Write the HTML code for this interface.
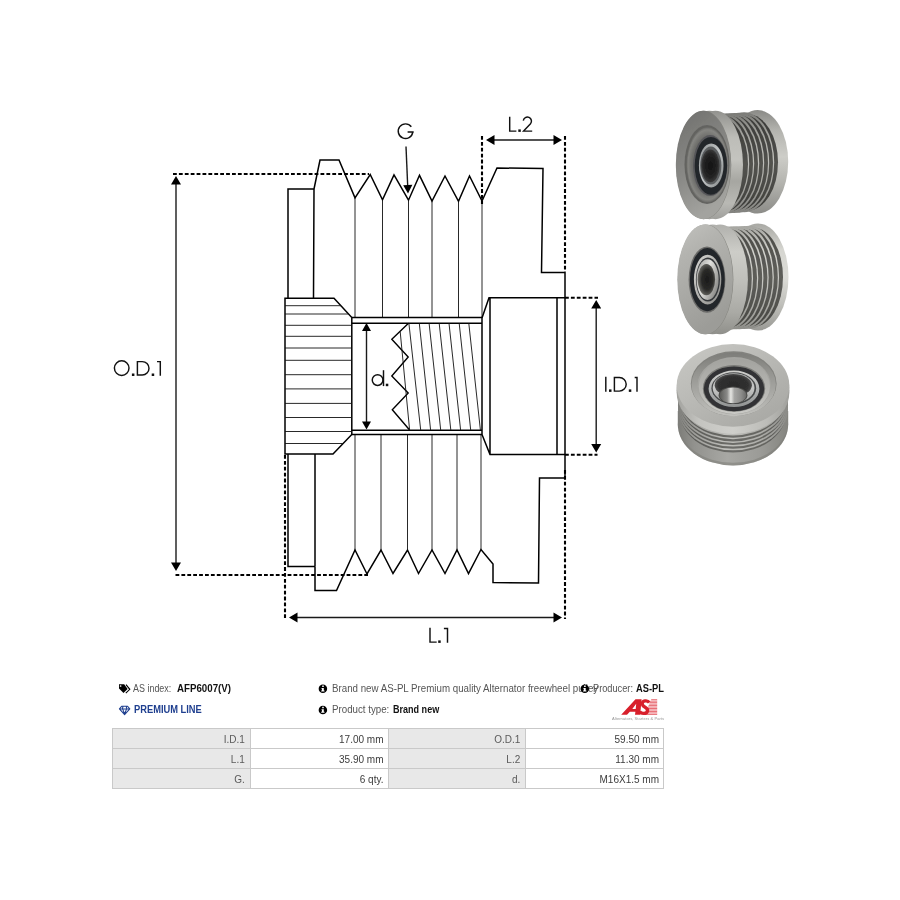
<!DOCTYPE html>
<html><head><meta charset="utf-8">
<style>
html,body{margin:0;padding:0;background:#fff;}
body{width:900px;height:900px;position:relative;overflow:hidden;font-family:"Liberation Sans",sans-serif;}
svg{position:absolute;left:0;top:0;}
.o{fill:none;stroke:#000;stroke-width:1.5;stroke-linejoin:miter;}
.t{fill:none;stroke:#111;stroke-width:0.9;}
.d{fill:none;stroke:#000;stroke-width:2.1;stroke-dasharray:3.8 2.1;}
.a{fill:none;stroke:#1a1a1a;stroke-width:1.4;}
.h{fill:#000;stroke:none;}
.lb{font-family:"Liberation Sans",sans-serif;font-size:19px;fill:#111;stroke:#fff;stroke-width:0.55px;paint-order:fill stroke;}
</style></head><body>
<svg id="draw" width="900" height="900" viewBox="0 0 900 900">
<!-- DRAWING -->
<g id="drawing">
<!-- left thin flange -->
<path class="o" d="M288,298 L288,189 L314,189 M313.5,298 L314,189"/>
<path class="o" d="M288,454 L288,566.5 L315,566.5 M315,454 L315,566.5"/>
<!-- top profile -->
<path class="o" d="M314,189 L320,160 L339,160 L355,197.8 L370.2,174.5 L382.5,199.8 L394,175 L408.5,200.2 L419.5,175.3 L432,201 L445,176 L458.5,201.3 L469.5,176 L482,201 L497,168 L543,168.5 L541.5,272.5 L565,272.5 L565,478 L539.5,478 L538.5,583 L493,582.5 L493,564 L481,549.5 L468.5,573.5 L457,550 L445,573.5 L432,550 L418.5,573.5 L407.5,550 L393,573.5 L381,550 L367,574 L355,550 L336.5,590.5 L315,590.5 L315,566.5"/>
<!-- groove verticals -->
<path class="t" d="M355,197.8 V318 M382.5,199.8 V318 M408.5,200.2 V318 M432,201 V318 M458.5,201.3 V318 M482,201 V318"/>
<path class="t" d="M355,550 V435 M381,550 V435 M407.5,550 V435 M432,550 V435 M457,550 V435 M481,550 V435"/>
<!-- spline hub -->
<path class="o" d="M285,298.3 L334,298.3 L351.8,317.5 L351.8,434.5 L333,454 L285,454 Z"/>
<path class="t" d="M285,305.7 H341 M285,314 H348.5 M285,325.3 H352 M285,336.3 H352 M285,348 H352 M285,360.3 H352 M285,374.7 H352 M285,388.9 H352 M285,403.4 H352 M285,417.5 H352 M285,431.5 H352 M285,443.5 H343"/>
<!-- bore -->
<path class="o" d="M352,317.5 H482 M352,323.3 H482 M352,430.3 H482 M352,434.6 H482"/>
<!-- right hub -->
<path class="o" d="M482,318 L489,297.8 L565,297.8 M482,434.5 L490,454.5 L565,454.5 M482,318 V434.5 M490,297.8 V454.5 M557,297.8 V454.5"/>
<!-- thread -->
<path class="o" d="M408.5,323.3 L391.8,339.3 L408.2,357 L391.8,376 L408.2,393 L392.3,409.7 L409.6,430" style="stroke-width:1.4"/>
<path class="t" d="M400.2,331.7 L409.6,430 M408.9,323.3 L420.7,430 M419.3,323.3 L430.6,430 M429.1,323.3 L440.7,430 M439.2,323.3 L450.8,430 M449,323.3 L460.6,430 M459.2,323.3 L470.7,430 M468.8,323.3 L480.4,430"/>
</g>
<!-- DIMENSIONS -->
<g id="dims">
<path class="d" d="M173,174 H369"/>
<path class="d" d="M175.5,575 H368"/>
<path class="a" d="M176,182 V568"/>
<path class="h" d="M176,176 l-5,8.5 h10 z M176,571 l-5,-8.5 h10 z"/>
<path class="d" d="M482,136 V204 M565,136 V272"/>
<path class="a" d="M492,140 H555"/>
<path class="h" d="M486,140 l8.5,-5 v10 z M562,140 l-8.5,-5 v10 z"/>
<path class="d" d="M565,297.8 H598 M565,454.8 H597.5"/>
<path class="a" d="M596.2,306 V446"/>
<path class="h" d="M596.2,300 l-5,8.5 h10 z M596.2,452.5 l-5,-8.5 h10 z"/>
<path class="d" d="M285,455 V619 M565,470 V619"/>
<path class="a" d="M296,617.5 H555"/>
<path class="h" d="M289,617.5 l8.5,-5 v10 z M562,617.5 l-8.5,-5 v10 z"/>
<path class="a" d="M366.5,330 V422"/>
<path class="h" d="M366.5,323 l-4.5,8 h9 z M366.5,429.5 l-4.5,-8 h9 z"/>
<path class="a" d="M406,146.5 L407.7,186"/>
<path class="h" d="M408,193.5 l-4.8,-8.3 l9.2,-0.4 z"/>
<g id="labels" fill="none" stroke="#111" stroke-width="1.45" stroke-linejoin="miter">
<!-- O.D.1 -->
<circle cx="121.7" cy="368.1" r="7.3"/>
<path d="M137.4,361.6 H142.3 A6.7,6.7 0 0 1 142.3,375 H137.4 Z"/>
<path d="M157,361.6 H160.3 V375.7"/>
<!-- G -->
<path d="M411.33,126.71 A7.3,7.3 0 1 0 412.75,132.3 M413.7,132 H407.6"/>
<!-- L.2 -->
<path d="M509.7,116.7 V131.1 H516.4"/>
<path d="M523.3,120.6 A4.1,4.1 0 1 1 530.5,123.8 L523.6,131.1 H532.2"/>
<!-- I.D.1 -->
<path d="M605.8,376.7 V391.8"/>
<path d="M614.4,377.4 H619.35 A6.85,6.85 0 0 1 619.35,391.1 H614.4 Z"/>
<path d="M634.7,377.4 H637 V391.8"/>
<!-- L.1 -->
<path d="M430,627.8 V642.1 H436.7"/>
<path d="M443.9,628.5 H447.5 V642.8"/>
<!-- d. -->
<path d="M383.5,370.2 V386.1"/>
<circle cx="377.6" cy="380.1" r="5.35"/>
</g>
<g id="dots" fill="#111">
<rect x="131.9" y="373.5" width="2.5" height="2.5"/><rect x="151.7" y="373.5" width="2.5" height="2.5"/>
<rect x="518.3" y="129.4" width="2.5" height="2.5"/>
<rect x="609" y="389.4" width="2.5" height="2.5"/><rect x="628.8" y="389.4" width="2.5" height="2.5"/>
<rect x="438.2" y="640.4" width="2.5" height="2.5"/>
<rect x="385.8" y="383.7" width="2.5" height="2.5"/>
</g>
</g>
<!-- PHOTOS -->
<g id="photos"><defs><filter id="soft" x="-5%" y="-5%" width="110%" height="110%"><feGaussianBlur stdDeviation="0.45"/></filter><radialGradient id="p1rec" cx="0.5" cy="0.5" r="0.5"><stop offset="0" stop-color="#5f5f5c"/><stop offset="0.75" stop-color="#6e6e6b"/><stop offset="0.93" stop-color="#858581"/><stop offset="1" stop-color="#6c6c69"/></radialGradient><linearGradient id="p1ring" x1="0" y1="0" x2="1" y2="1"><stop offset="0" stop-color="#8d9192"/><stop offset="0.5" stop-color="#c3c7c8"/><stop offset="1" stop-color="#7f8384"/></linearGradient><radialGradient id="p1bore" cx="0.5" cy="0.5" r="0.5"><stop offset="0" stop-color="#141414"/><stop offset="0.7" stop-color="#222"/><stop offset="1" stop-color="#3a3a3a"/></radialGradient><linearGradient id="p1face" x1="0" y1="0" x2="0.35" y2="1"><stop offset="0" stop-color="#6f6f6c"/><stop offset="0.3" stop-color="#7d7d7a"/><stop offset="0.6" stop-color="#8a8a87"/><stop offset="1" stop-color="#a3a39f"/></linearGradient><linearGradient id="p1rim" x1="0" y1="0" x2="0" y2="1"><stop offset="0" stop-color="#92928e"/><stop offset="0.25" stop-color="#bdbdb8"/><stop offset="0.45" stop-color="#c4c4bf"/><stop offset="0.65" stop-color="#a6a6a1"/><stop offset="0.85" stop-color="#b9b9b4"/><stop offset="1" stop-color="#a0a09c"/></linearGradient><linearGradient id="p1ridge" x1="0" y1="0" x2="0" y2="1"><stop offset="0" stop-color="#7a7a76"/><stop offset="0.2" stop-color="#a2a29d"/><stop offset="0.45" stop-color="#c2c2bd"/><stop offset="0.7" stop-color="#a8a8a3"/><stop offset="1" stop-color="#82827e"/></linearGradient><linearGradient id="p1groove" x1="0" y1="0" x2="0" y2="1"><stop offset="0" stop-color="#3a3a37"/><stop offset="0.3" stop-color="#474744"/><stop offset="0.5" stop-color="#53534f"/><stop offset="0.8" stop-color="#484844"/><stop offset="1" stop-color="#3a3a37"/></linearGradient><linearGradient id="p1rear" x1="0" y1="0" x2="0" y2="1"><stop offset="0" stop-color="#8a8a86"/><stop offset="0.2" stop-color="#b4b4af"/><stop offset="0.45" stop-color="#cdcdc8"/><stop offset="0.7" stop-color="#b4b4af"/><stop offset="1" stop-color="#8c8c88"/></linearGradient><linearGradient id="p2ring" x1="0" y1="0" x2="1" y2="1"><stop offset="0" stop-color="#d5d5d2"/><stop offset="0.45" stop-color="#b5b5b2"/><stop offset="1" stop-color="#8c8c89"/></linearGradient><linearGradient id="p2in" x1="0" y1="0" x2="1" y2="0.6"><stop offset="0" stop-color="#9a9a97"/><stop offset="0.5" stop-color="#e0e0dd"/><stop offset="1" stop-color="#8f8f8c"/></linearGradient><radialGradient id="p2bore" cx="0.55" cy="0.5" r="0.5"><stop offset="0" stop-color="#1a1a1a"/><stop offset="0.65" stop-color="#2a2a28"/><stop offset="1" stop-color="#5c5c58"/></radialGradient><linearGradient id="p2face" x1="0" y1="0" x2="0.35" y2="1"><stop offset="0" stop-color="#c2c2be"/><stop offset="0.3" stop-color="#b3b3af"/><stop offset="0.65" stop-color="#a8a8a4"/><stop offset="1" stop-color="#9c9c98"/></linearGradient><linearGradient id="p2rim" x1="0" y1="0" x2="0" y2="1"><stop offset="0" stop-color="#b0b0ac"/><stop offset="0.25" stop-color="#cdcdc8"/><stop offset="0.5" stop-color="#c0c0bb"/><stop offset="0.8" stop-color="#aaaaa5"/><stop offset="1" stop-color="#90908b"/></linearGradient><linearGradient id="p2ridge" x1="0" y1="0" x2="0" y2="1"><stop offset="0" stop-color="#a5a5a0"/><stop offset="0.25" stop-color="#d2d2cd"/><stop offset="0.5" stop-color="#cacac5"/><stop offset="0.75" stop-color="#b0b0ab"/><stop offset="1" stop-color="#8e8e89"/></linearGradient><linearGradient id="p2groove" x1="0" y1="0" x2="0" y2="1"><stop offset="0" stop-color="#4a4a46"/><stop offset="0.3" stop-color="#585854"/><stop offset="0.5" stop-color="#5e5e5a"/><stop offset="0.8" stop-color="#52524e"/><stop offset="1" stop-color="#44443f"/></linearGradient><linearGradient id="p2rear" x1="0" y1="0" x2="0" y2="1"><stop offset="0" stop-color="#a9a9a4"/><stop offset="0.25" stop-color="#d6d6d1"/><stop offset="0.5" stop-color="#dcdcd7"/><stop offset="0.75" stop-color="#c0c0bb"/><stop offset="1" stop-color="#9a9a95"/></linearGradient><linearGradient id="p3ridge" x1="0" y1="0" x2="1" y2="0"><stop offset="0" stop-color="#7e7e7a"/><stop offset="0.15" stop-color="#9d9d99"/><stop offset="0.45" stop-color="#c0c0bc"/><stop offset="0.75" stop-color="#adada9"/><stop offset="1" stop-color="#8a8a86"/></linearGradient><linearGradient id="p3groove" x1="0" y1="0" x2="1" y2="0"><stop offset="0" stop-color="#4e4e4b"/><stop offset="0.2" stop-color="#60605c"/><stop offset="0.5" stop-color="#6c6c68"/><stop offset="0.8" stop-color="#646460"/><stop offset="1" stop-color="#525250"/></linearGradient><linearGradient id="p3bot" x1="0" y1="0" x2="1" y2="0"><stop offset="0" stop-color="#7c7c78"/><stop offset="0.15" stop-color="#92928e"/><stop offset="0.45" stop-color="#a8a8a4"/><stop offset="0.75" stop-color="#9b9b97"/><stop offset="1" stop-color="#84847f"/></linearGradient><linearGradient id="p3botv" x1="0" y1="0" x2="0" y2="1"><stop offset="0" stop-color="#000"/><stop offset="1" stop-color="#000"/></linearGradient><linearGradient id="p3rim" x1="0" y1="0" x2="1" y2="0"><stop offset="0" stop-color="#a2a29e"/><stop offset="0.2" stop-color="#c4c4c0"/><stop offset="0.5" stop-color="#cfcfcb"/><stop offset="0.8" stop-color="#bcbcb8"/><stop offset="1" stop-color="#a0a09c"/></linearGradient><linearGradient id="p3face" x1="0" y1="0" x2="0.8" y2="1"><stop offset="0" stop-color="#c9c9c5"/><stop offset="0.4" stop-color="#bcbcb8"/><stop offset="1" stop-color="#a8a8a4"/></linearGradient><linearGradient id="p3rec" x1="0" y1="0" x2="0" y2="1"><stop offset="0" stop-color="#7d7d79"/><stop offset="0.3" stop-color="#93938f"/><stop offset="0.7" stop-color="#adada9"/><stop offset="1" stop-color="#c0c0bc"/></linearGradient><linearGradient id="p3rec2" x1="0" y1="0" x2="0" y2="1"><stop offset="0" stop-color="#a3a39f"/><stop offset="0.5" stop-color="#b4b4b0"/><stop offset="1" stop-color="#cacac6"/></linearGradient><linearGradient id="p3ring" x1="0" y1="0" x2="0" y2="1"><stop offset="0" stop-color="#d0d0cd"/><stop offset="0.5" stop-color="#b3b5b5"/><stop offset="1" stop-color="#909292"/></linearGradient><linearGradient id="p3hub" x1="0" y1="0" x2="0" y2="1"><stop offset="0" stop-color="#b4b5b4"/><stop offset="0.5" stop-color="#c6c7c6"/><stop offset="1" stop-color="#a2a3a2"/></linearGradient><radialGradient id="p3spl" cx="0.5" cy="0.5" r="0.5"><stop offset="0" stop-color="#2a2a2a"/><stop offset="0.8" stop-color="#303030"/><stop offset="1" stop-color="#4d4d4d"/></radialGradient><linearGradient id="p3sh" x1="0" y1="0" x2="1" y2="0"><stop offset="0" stop-color="#5a5a58"/><stop offset="0.28" stop-color="#8a8a88"/><stop offset="0.42" stop-color="#e6e6e3"/><stop offset="0.55" stop-color="#a5a5a3"/><stop offset="0.8" stop-color="#8d8d8b"/><stop offset="1" stop-color="#6a6a68"/></linearGradient></defs><g filter="url(#soft)"><ellipse cx="757.6" cy="161.8" rx="30.6" ry="51.8" fill="url(#p1rear)" /><ellipse cx="748.0" cy="162.37" rx="30" ry="48.0" fill="url(#p1groove)" /><ellipse cx="744.2" cy="162.37" rx="30" ry="50" fill="url(#p1ridge)" /><ellipse cx="743.0" cy="162.66" rx="30" ry="48.0" fill="url(#p1groove)" /><ellipse cx="739.2" cy="162.66" rx="30" ry="50" fill="url(#p1ridge)" /><ellipse cx="738.0" cy="162.96" rx="30" ry="48.0" fill="url(#p1groove)" /><ellipse cx="734.2" cy="162.96" rx="30" ry="50" fill="url(#p1ridge)" /><ellipse cx="733.0" cy="163.25" rx="30" ry="48.0" fill="url(#p1groove)" /><ellipse cx="729.2" cy="163.25" rx="30" ry="50" fill="url(#p1ridge)" /><ellipse cx="728.0" cy="163.54" rx="30" ry="48.0" fill="url(#p1groove)" /><ellipse cx="724.2" cy="163.54" rx="30" ry="50" fill="url(#p1ridge)" /><ellipse cx="723.0" cy="163.84" rx="30" ry="48.0" fill="url(#p1groove)" /><ellipse cx="719.2" cy="163.84" rx="30" ry="50" fill="url(#p1ridge)" /><ellipse cx="718.0" cy="164.13" rx="30" ry="48.0" fill="url(#p1groove)" /><ellipse cx="715.5" cy="165" rx="27.5" ry="54.2" fill="url(#p1rim)" /><ellipse cx="709.4" cy="165" rx="27.5" ry="54.2" fill="url(#p1rim)" /><ellipse cx="703.8" cy="165" rx="27.5" ry="54.2" fill="#85857f" /><ellipse cx="703.3" cy="165" rx="27.5" ry="54.2" fill="url(#p1face)" /><ellipse cx="707" cy="164.5" rx="22.5" ry="39.5" fill="#646461" /><ellipse cx="707.6" cy="164.8" rx="21" ry="37.5" fill="url(#p1rec)" /><ellipse cx="710.2" cy="165.6" rx="17.2" ry="30.5" fill="#57575a" /><ellipse cx="710.9" cy="165.8" rx="16.2" ry="28.9" fill="#24272a" /><ellipse cx="711.2" cy="165.4" rx="12.3" ry="22" fill="url(#p1ring)" /><ellipse cx="710.8" cy="165.6" rx="10.6" ry="19" fill="#5a5d5f" /><ellipse cx="710.4" cy="165.8" rx="9.2" ry="16.4" fill="url(#p1bore)" /></g><g filter="url(#soft)"><ellipse cx="758" cy="277" rx="30.5" ry="53.5" fill="url(#p2rear)" /><ellipse cx="753.5" cy="277.2" rx="29.5" ry="49.5" fill="url(#p2groove)" /><ellipse cx="749.55" cy="277.2" rx="29.5" ry="51.5" fill="url(#p2ridge)" /><ellipse cx="748.3" cy="277.42" rx="29.5" ry="49.5" fill="url(#p2groove)" /><ellipse cx="744.35" cy="277.42" rx="29.5" ry="51.5" fill="url(#p2ridge)" /><ellipse cx="743.1" cy="277.65" rx="29.5" ry="49.5" fill="url(#p2groove)" /><ellipse cx="739.15" cy="277.65" rx="29.5" ry="51.5" fill="url(#p2ridge)" /><ellipse cx="737.9" cy="277.87" rx="29.5" ry="49.5" fill="url(#p2groove)" /><ellipse cx="733.95" cy="277.87" rx="29.5" ry="51.5" fill="url(#p2ridge)" /><ellipse cx="732.7" cy="278.1" rx="29.5" ry="49.5" fill="url(#p2groove)" /><ellipse cx="728.75" cy="278.1" rx="29.5" ry="51.5" fill="url(#p2ridge)" /><ellipse cx="727.5" cy="278.33" rx="29.5" ry="49.5" fill="url(#p2groove)" /><ellipse cx="723.55" cy="278.33" rx="29.5" ry="51.5" fill="url(#p2ridge)" /><ellipse cx="722.3" cy="278.55" rx="29.5" ry="49.5" fill="url(#p2groove)" /><ellipse cx="720.1" cy="279.3" rx="27.8" ry="54.9" fill="url(#p2rim)" /><ellipse cx="712.6" cy="279.3" rx="27.8" ry="54.9" fill="url(#p2rim)" /><ellipse cx="705.6" cy="279.3" rx="27.8" ry="54.9" fill="#85857f" /><ellipse cx="705.1" cy="279.3" rx="27.8" ry="54.9" fill="url(#p2face)" /><ellipse cx="707.0" cy="279.6" rx="18.4" ry="33.2" fill="#6a6a68" /><ellipse cx="707.3" cy="279.6" rx="17.4" ry="31.6" fill="#23262a" /><ellipse cx="707.6" cy="279.6" rx="13.7" ry="24.9" fill="url(#p2ring)" /><ellipse cx="707.9" cy="279.6" rx="12" ry="22" fill="#34373a" /><ellipse cx="707.6" cy="279.6" rx="11" ry="20.3" fill="url(#p2in)" /><ellipse cx="706.4" cy="279.6" rx="8.7" ry="15.6" fill="url(#p2bore)" /></g><g filter="url(#soft)"><path d="M677.8,411 L677.8,424.2 A55.2,41.3 0 0 0 788.2,424.2 L788.2,411 Z" fill="url(#p3bot)"/><path d="M677.8,421.5 L677.8,424.2 A55.2,41.3 0 0 0 788.2,424.2 L788.2,421.5 A55.2,41.3 0 0 1 677.8,421.5 Z" fill="#7d7d79" opacity="0.55"/><ellipse cx="733" cy="411.2" rx="53.6" ry="41.3" fill="url(#p3groove)" /><ellipse cx="733" cy="408.98" rx="55.0" ry="41.3" fill="url(#p3ridge)" /><ellipse cx="733" cy="407.5" rx="53.6" ry="41.3" fill="url(#p3groove)" /><ellipse cx="733" cy="405.28" rx="55.0" ry="41.3" fill="url(#p3ridge)" /><ellipse cx="733" cy="403.8" rx="53.6" ry="41.3" fill="url(#p3groove)" /><ellipse cx="733" cy="401.58" rx="55.0" ry="41.3" fill="url(#p3ridge)" /><ellipse cx="733" cy="400.1" rx="53.6" ry="41.3" fill="url(#p3groove)" /><ellipse cx="733" cy="397.88" rx="55.0" ry="41.3" fill="url(#p3ridge)" /><ellipse cx="733" cy="396.4" rx="53.6" ry="41.3" fill="url(#p3groove)" /><ellipse cx="733" cy="394.18" rx="55.0" ry="41.3" fill="url(#p3ridge)" /><ellipse cx="733" cy="392.6" rx="56.3" ry="41.3" fill="url(#p3rim)" /><ellipse cx="733" cy="390.2" rx="56.3" ry="41.3" fill="url(#p3rim)" /><ellipse cx="733" cy="387.8" rx="56.3" ry="41.3" fill="url(#p3rim)" /><ellipse cx="733" cy="385.4" rx="56.3" ry="41.3" fill="url(#p3face)" /><ellipse cx="733.7" cy="383.7" rx="42.9" ry="32.4" fill="#82827e" /><ellipse cx="733.7" cy="384.5" rx="42.2" ry="31.7" fill="url(#p3rec)" /><ellipse cx="734.2" cy="385.6" rx="36.8" ry="28.6" fill="#a5a5a1" /><ellipse cx="734.4" cy="386.3" rx="35.6" ry="27.6" fill="url(#p3rec2)" /><ellipse cx="734" cy="388.4" rx="31.2" ry="23.4" fill="#7a7a77" /><ellipse cx="734" cy="388.8" rx="30.2" ry="22.4" fill="#303234" /><ellipse cx="734" cy="388.8" rx="25.4" ry="18.3" fill="url(#p3ring)" /><ellipse cx="733.8" cy="388.2" rx="22.4" ry="15.9" fill="#47494a" /><ellipse cx="733.6" cy="388" rx="20.9" ry="14.8" fill="url(#p3hub)" /><ellipse cx="733.3" cy="385.2" rx="18.6" ry="11.2" fill="url(#p3spl)" /><ellipse cx="733" cy="395.2" rx="14.4" ry="8.7" fill="#4a4a48" /><ellipse cx="733" cy="395.3" rx="13.4" ry="7.9" fill="url(#p3sh)" /></g></g>
</svg>
<!-- INFO -->
<div id="info">
<style>
#info{position:absolute;left:0;top:0;width:900px;height:900px;font-size:10px;color:#555;will-change:transform;}
#info .r{position:absolute;white-space:nowrap;line-height:12px;height:12px;transform-origin:0 50%;}
#info b{color:#111;font-weight:bold;}
#info svg{position:absolute;}
table.sp{position:absolute;left:112px;top:728px;width:552px;border-collapse:collapse;table-layout:fixed;font-size:10px;color:#5a5a5a;}
table.sp td{height:17px;padding:2px 4px 0 0;text-align:right;border:1px solid #c9c9c9;line-height:17px;}
table.sp td.k{background:#e8e8e8;padding-right:5px;}
table.sp td.v{background:#fff;color:#3c3c3c;}
</style>
<div class="r" id="t1a" style="left:133.4px;top:683.2px;transform:scaleX(0.8946);">AS index:</div>
<div class="r" id="t1b" style="left:176.5px;top:683.2px;transform:scaleX(0.9716);"><b>AFP6007(V)</b></div>
<div class="r" id="t2" style="left:133.9px;top:704.3px;color:#1f3f8f;font-weight:bold;transform:scaleX(0.9316);">PREMIUM LINE</div>
<div class="r" id="t3" style="left:331.7px;top:683.2px;transform:scaleX(0.9727);">Brand new AS-PL Premium quality Alternator freewheel pulley</div>
<div class="r" id="t4a" style="left:331.7px;top:704.3px;transform:scaleX(0.9725);">Product type:</div>
<div class="r" id="t4b" style="left:392.7px;top:704.3px;transform:scaleX(0.9037);"><b>Brand new</b></div>
<div class="r" id="t5a" style="left:593px;top:683.2px;transform:scaleX(0.9225);">Producer:</div>
<div class="r" id="t5b" style="left:636px;top:683.2px;transform:scaleX(0.9333);"><b>AS-PL</b></div>
<svg width="900" height="900" viewBox="0 0 900 900">
<!-- tag icon -->
<path d="M119,684.3 H124.2 L127.6,688.9 L123.5,693 L119,688.6 Z" fill="#000"/>
<circle cx="120.6" cy="686" r="0.85" fill="#fff"/>
<path d="M126,684.6 L129.8,689.3 L125.8,693.2" fill="none" stroke="#000" stroke-width="1.1"/>
<!-- diamond -->
<path d="M121.6,706.3 H127.6 L129.8,708.8 L124.6,714.6 L119.4,708.8 Z M119.4,708.9 H129.8 M122.6,708.9 L124.6,714 L126.6,708.9 M123,706.4 L122.4,708.8 M126.2,706.4 L126.8,708.8" fill="none" stroke="#1f3f8f" stroke-width="1.05" stroke-linejoin="round"/>
<!-- info icons -->
<g id="ii"><circle cx="322.9" cy="688.8" r="4.25" fill="#000"/><path d="M322.2,685.6 h1.6 v1.5 h-1.6 z M321.9,688 h1.9 v2.6 h0.7 v0.9 h-3.3 v-0.9 h0.7 v-1.7 h-0.7 z" fill="#fff"/></g>
<use href="#ii" y="21.2"/>
<use href="#ii" x="261.9"/>
<!-- AS logo -->
<g id="logo">
<path d="M651.2,699.70 H657.2 M650.5,701.17 H657.2 M649.9,702.64 H657.2 M649.2,704.11 H657.2 M648.6,705.58 H657.2 M648.0,707.05 H657.2 M647.3,708.52 H657.2 M646.7,709.99 H657.2 M646.0,711.46 H657.2 M645.4,712.93 H657.2 M644.7,714.40 H657.2 " stroke="#e4505a" stroke-width="0.85" fill="none"/>
<path d="M621.2,714.8 L635.5,699.2 H641.6 L640.2,714.8 H635 L635.4,711.7 H629.8 L627,714.8 Z M632.3,708.9 H635.7 L636.2,703.8 Z" fill="#d81f2b" fill-rule="evenodd"/>
<path d="M649.3,702.6 C647.6,699.9 641.6,700.3 642.3,704.2 C642.9,707.7 648.3,706.9 647.5,710.8 C646.7,714.4 640.6,714 639.6,711.2" fill="none" stroke="#d81f2b" stroke-width="3.4" stroke-linecap="butt"/>
</g>
</svg>
<div class="r" id="tg" style="left:611.5px;top:713.4px;font-size:10px;color:#949494;transform-origin:0 50%;transform:scale(0.4,0.4);letter-spacing:0.2px;">Alternators, Starters &amp; Parts</div>
<table class="sp">
<tr><td class="k">I.D.1</td><td class="v">17.00 mm</td><td class="k">O.D.1</td><td class="v">59.50 mm</td></tr>
<tr><td class="k">L.1</td><td class="v">35.90 mm</td><td class="k">L.2</td><td class="v">11.30 mm</td></tr>
<tr><td class="k">G.</td><td class="v">6 qty.</td><td class="k">d.</td><td class="v">M16X1.5 mm</td></tr>
</table>
</div>
</body></html>
